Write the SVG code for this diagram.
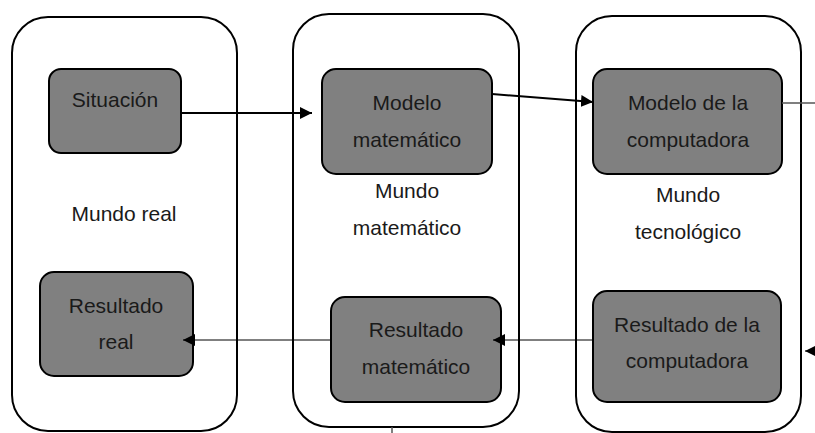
<svg xmlns="http://www.w3.org/2000/svg" width="815" height="433" viewBox="0 0 815 433">
<defs>
<style>
.cont{fill:#fff;stroke:#000;stroke-width:2}
.box{fill:#808080;stroke:#000;stroke-width:2}
.t{font-family:"Liberation Sans",Arial,sans-serif;font-size:21px;fill:#1a1a1a;text-anchor:middle}
.c{stroke:#000;stroke-width:2;fill:none}
</style>
<marker id="ah" markerWidth="12" markerHeight="12" refX="12" refY="6" orient="auto" markerUnits="userSpaceOnUse">
<path d="M0,0 L12,6 L0,12 Z" fill="#000"/>
</marker>
</defs>
<rect width="815" height="433" fill="#fff"/>
<g id="mundo-real">
<rect class="cont" x="12" y="17" width="225" height="414" rx="36"/>
<text class="t" x="124" y="221">Mundo real</text>
</g>
<g id="mundo-matematico">
<rect class="cont" x="293" y="14" width="226" height="413" rx="36"/>
<text class="t" x="407" y="198">Mundo</text>
<text class="t" x="407" y="235">matemático</text>
</g>
<g id="mundo-tecnologico">
<rect class="cont" x="576" y="16" width="225" height="416" rx="36"/>
<text class="t" x="688" y="202">Mundo</text>
<text class="t" x="688" y="239">tecnológico</text>
</g>
<g id="situacion">
<rect class="box" x="49" y="69" width="132" height="84" rx="12"/>
<text class="t" x="115" y="107">Situación</text>
</g>
<g id="modelo-matematico">
<rect class="box" x="322" y="69" width="170" height="105" rx="14"/>
<text class="t" x="407" y="110">Modelo</text>
<text class="t" x="407" y="147">matemático</text>
</g>
<g id="modelo-computadora">
<rect class="box" x="593" y="69" width="189" height="105" rx="14"/>
<text class="t" x="688" y="110">Modelo de la</text>
<text class="t" x="688" y="147">computadora</text>
</g>
<g id="resultado-real">
<rect class="box" x="40" y="272" width="153" height="104" rx="14"/>
<text class="t" x="116" y="313">Resultado</text>
<text class="t" x="116" y="349">real</text>
</g>
<g id="resultado-matematico">
<rect class="box" x="331" y="297" width="170" height="105" rx="14"/>
<text class="t" x="416" y="337">Resultado</text>
<text class="t" x="416" y="374">matemático</text>
</g>
<g id="resultado-computadora">
<rect class="box" x="593" y="291" width="188" height="111" rx="14"/>
<text class="t" x="687" y="332">Resultado de la</text>
<text class="t" x="687" y="368">computadora</text>
</g>
<g id="connectors">
<line class="c" x1="181" y1="113" x2="312" y2="113" marker-end="url(#ah)"/>
<line class="c" x1="492" y1="94" x2="593" y2="102" marker-end="url(#ah)"/>
<line x1="782" y1="103" x2="815" y2="103" stroke="#555" stroke-width="1.5"/>
<line x1="815" y1="351" x2="805" y2="351" stroke="#000" stroke-width="1" marker-end="url(#ah)"/>
<line x1="593" y1="340" x2="493" y2="340" stroke="#000" stroke-width="1" marker-end="url(#ah)"/>
<line x1="331" y1="340" x2="183" y2="340" stroke="#000" stroke-width="1" marker-end="url(#ah)"/>
<line x1="392" y1="427" x2="392" y2="433" stroke="#555" stroke-width="1.5"/>
</g>
</svg>
